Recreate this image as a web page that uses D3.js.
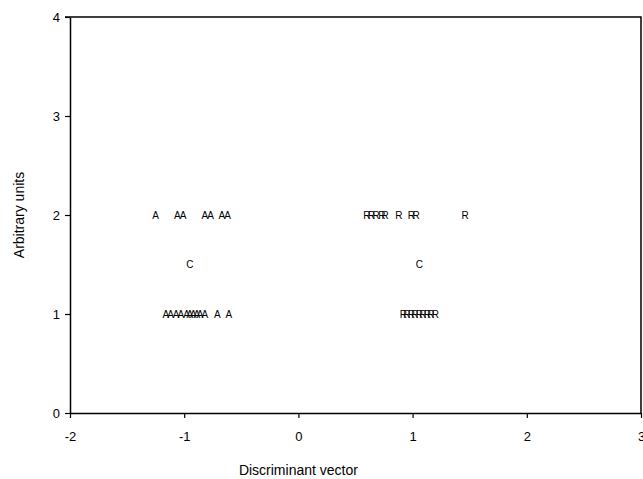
<!DOCTYPE html>
<html>
<head>
<meta charset="utf-8">
<script src="https://cdn.jsdelivr.net/npm/d3@7"></script>
<style>
  body { margin: 0; background: #fff; }
  svg { font-family: "Liberation Sans", Arial, sans-serif; }
</style>
</head>
<body>
<div class="chart"></div>
<script>
// discriminant scores, one letter per case
const groupA_top = [-1.25, -1.06, -1.01, -0.82, -0.77, -0.67, -0.62];
const groupA_bottom = [-1.16, -1.12, -1.07, -1.03, -0.98, -0.95, -0.92, -0.89, -0.86, -0.82, -0.71, -0.61];
const groupR_top = [0.60, 0.64, 0.68, 0.73, 0.76, 0.88, 0.99, 1.03, 1.46];
const groupR_bottom = [0.92, 0.95, 0.99, 1.02, 1.06, 1.09, 1.13, 1.16, 1.20];
const centroids = [-0.95, 1.06];

const xTicks = [-2, -1, 0, 1, 2, 3];
const yTicks = [0, 1, 2, 3, 4];

const points = [
    ...groupA_top.map(x => ({x, y: 2, label: 'A'})),
    ...groupA_bottom.map(x => ({x, y: 1, label: 'A'})),
    ...groupR_top.map(x => ({x, y: 2, label: 'R'})),
    ...groupR_bottom.map(x => ({x, y: 1, label: 'R'})),
    ...centroids.map(x => ({x, y: 1.5, label: 'C'})),
];

const dims = {
    width: 643,
    height: 479,
    margin: {top: 17, right: 2, bottom: 66, left: 70},
};
dims.boundedWidth = dims.width - dims.margin.left - dims.margin.right;
dims.boundedHeight = dims.height - dims.margin.top - dims.margin.bottom;

const wrapper = d3.select('.chart')
    .append('svg')
    .attr('width', dims.width)
    .attr('height', dims.height);

const bounds = wrapper.append('g')
    .attr('transform', `translate(${dims.margin.left}, ${dims.margin.top})`);

const xScale = d3.scaleLinear().domain([-2, 3]).range([0, dims.boundedWidth]);
const yScale = d3.scaleLinear().domain([0, 4]).range([dims.boundedHeight, 0]);

// frame
bounds.append('path')
    .attr('d', `M-5,0H${dims.boundedWidth}V${dims.boundedHeight}`)
    .attr('fill', 'none')
    .attr('stroke', '#000')
    .attr('stroke-width', 1.5);

// plain hyphen for negatives, like the original
const xAxis = d3.axisBottom(xScale).tickValues(xTicks).tickSize(5).tickSizeOuter(0).tickFormat(d => String(d));
const yAxis = d3.axisLeft(yScale).tickValues(yTicks).tickSize(5).tickSizeOuter(0).tickFormat(d => String(d));

const gx = bounds.append('g')
    .attr('transform', `translate(0, ${dims.boundedHeight})`)
    .call(xAxis);
const gy = bounds.append('g').call(yAxis);

[gx, gy].forEach(g => {
    g.select('.domain').attr('stroke-width', 1.5);
    g.selectAll('.tick line').attr('stroke-width', 1.2);
    g.selectAll('.tick text').attr('font-size', 13).attr('fill', '#000')
        .attr('font-family', '"Liberation Sans", Arial, sans-serif');
});
gx.selectAll('.tick text').attr('dy', '1.5em');
gy.selectAll('.tick text').attr('x', -10);

bounds.selectAll('.pt')
    .data(points)
    .join('text')
    .attr('class', 'pt')
    .attr('x', d => xScale(d.x))
    .attr('y', d => yScale(d.y))
    .attr('text-anchor', 'middle')
    .attr('dy', '0.35em')
    .attr('font-size', 10)
    .text(d => d.label);

wrapper.append('text')
    .attr('x', dims.margin.left + xScale(0))
    .attr('y', 475)
    .attr('text-anchor', 'middle')
    .attr('font-size', 14)
    .text('Discriminant vector');

wrapper.append('text')
    .attr('transform', `translate(24, ${dims.margin.top + yScale(2)}) rotate(-90)`)
    .attr('text-anchor', 'middle')
    .attr('font-size', 14)
    .text('Arbitrary units');
</script>
</body>
</html>
